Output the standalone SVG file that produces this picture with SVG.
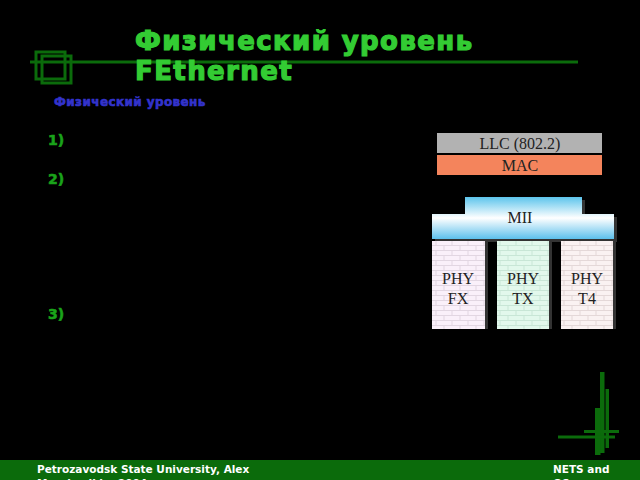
<svg xmlns="http://www.w3.org/2000/svg" width="640" height="480" viewBox="0 0 640 480">
<defs>
<style>
.title{font-family:"DejaVu Sans",Verdana,sans-serif;font-weight:bold;font-size:26px;letter-spacing:1.4px;fill:#33cc33;stroke:#33cc33;stroke-width:1.2px}
.sub{font-family:"DejaVu Sans",Verdana,sans-serif;font-weight:bold;font-size:12px;letter-spacing:0.4px;fill:#3333cc;stroke:#3333cc;stroke-width:0.6px}
.num{font-family:"DejaVu Sans",Verdana,sans-serif;font-weight:bold;font-size:14px;fill:#1aa31a;stroke:#1aa31a;stroke-width:0.6px}
.foot{font-family:"DejaVu Sans",Verdana,sans-serif;font-weight:bold;font-size:10.5px;fill:#ffffff}
.lbl{font-family:"Liberation Serif","Times New Roman",serif;font-size:16px;fill:#222;text-anchor:middle}
.deco{fill:#0b6b0b}
</style>
<pattern id="brickP" width="16" height="10" patternUnits="userSpaceOnUse">
<rect width="16" height="10" fill="#faf0fa"/>
<path d="M0 0.5H16M0 5.5H16M4 0V5M12 5V10" stroke="#e2d6e2" stroke-width="1" fill="none"/>
</pattern>
<pattern id="brickG" width="16" height="10" patternUnits="userSpaceOnUse">
<rect width="16" height="10" fill="#e2f8ec"/>
<path d="M0 0.5H16M0 5.5H16M4 0V5M12 5V10" stroke="#c8e6d6" stroke-width="1" fill="none"/>
</pattern>
<pattern id="brickW" width="16" height="10" patternUnits="userSpaceOnUse">
<rect width="16" height="10" fill="#faf2f2"/>
<path d="M0 0.5H16M0 5.5H16M4 0V5M12 5V10" stroke="#e4d8d8" stroke-width="1" fill="none"/>
</pattern>
<linearGradient id="miiG" x1="0" y1="0" x2="0" y2="1">
<stop offset="0" stop-color="#5cc4ec"/>
<stop offset="0.5" stop-color="#ffffff"/>
<stop offset="1" stop-color="#5cc0ec"/>
</linearGradient>
</defs>
<rect width="640" height="480" fill="#000"/>

<g id="header">
<line x1="30" y1="62" x2="578" y2="62" stroke="#0b6b0b" stroke-width="3"/>
<rect x="36" y="52" width="29" height="27" fill="none" stroke="#0b6b0b" stroke-width="3"/>
<rect x="42" y="56" width="29" height="27" fill="none" stroke="#0b6b0b" stroke-width="3"/>
<text class="title" x="135" y="50">Физический уровень</text>
<text class="title" x="135" y="80">FEthernet</text>
<text class="sub" x="54" y="106">Физический уровень</text>
</g>

<g id="list">
<text class="num" x="48" y="145">1)</text>
<text class="num" x="48" y="184">2)</text>
<text class="num" x="48" y="319">3)</text>
</g>

<g id="llc">
<rect x="437" y="133" width="165" height="20" fill="#b2b2b2"/>
<text class="lbl" x="520" y="149">LLC (802.2)</text>
</g>
<g id="mac">
<rect x="437" y="155" width="165" height="20" fill="#f4845c"/>
<text class="lbl" x="520" y="171">MAC</text>
</g>
<g id="mii">
<path d="M468 200H585V217H617V242H435V217H468Z" fill="#333"/>
<path d="M465 197H582V214H614V239H432V214H465Z" fill="url(#miiG)"/>
<text class="lbl" x="520" y="223">MII</text>
</g>
<g id="phy-fx">
<rect x="485" y="241" width="3" height="88" fill="#333"/>
<rect x="432" y="241" width="53" height="88" fill="url(#brickP)"/>
<text class="lbl" x="458" y="284">PHY</text>
<text class="lbl" x="458" y="304">FX</text>
</g>
<g id="phy-tx">
<rect x="549" y="241" width="3" height="88" fill="#333"/>
<rect x="497" y="241" width="52" height="88" fill="url(#brickG)"/>
<text class="lbl" x="523" y="284">PHY</text>
<text class="lbl" x="523" y="304">TX</text>
</g>
<g id="phy-t4">
<rect x="613" y="241" width="3" height="88" fill="#333"/>
<rect x="561" y="241" width="52" height="88" fill="url(#brickW)"/>
<text class="lbl" x="587" y="284">PHY</text>
<text class="lbl" x="587" y="304">T4</text>
</g>
<g id="connectors"></g>

<g id="decoration">
<rect class="deco" x="600" y="372" width="4.5" height="81"/>
<rect class="deco" x="605.5" y="389" width="3.5" height="59"/>
<rect class="deco" x="595" y="408" width="5.5" height="47"/>
<rect class="deco" x="558" y="435.5" width="57" height="3"/>
<rect class="deco" x="584" y="430" width="35" height="3"/>
</g>

<g id="footer">
<rect x="0" y="460" width="640" height="20" fill="#0b6b0b"/>
<text class="foot" x="37" y="473">Petrozavodsk State University, Alex</text>
<text class="foot" x="37" y="487">Moschevikin, 2004</text>
<text class="foot" x="553" y="473">NETS and</text>
<text class="foot" x="553" y="487">OS</text>
</g>
</svg>
